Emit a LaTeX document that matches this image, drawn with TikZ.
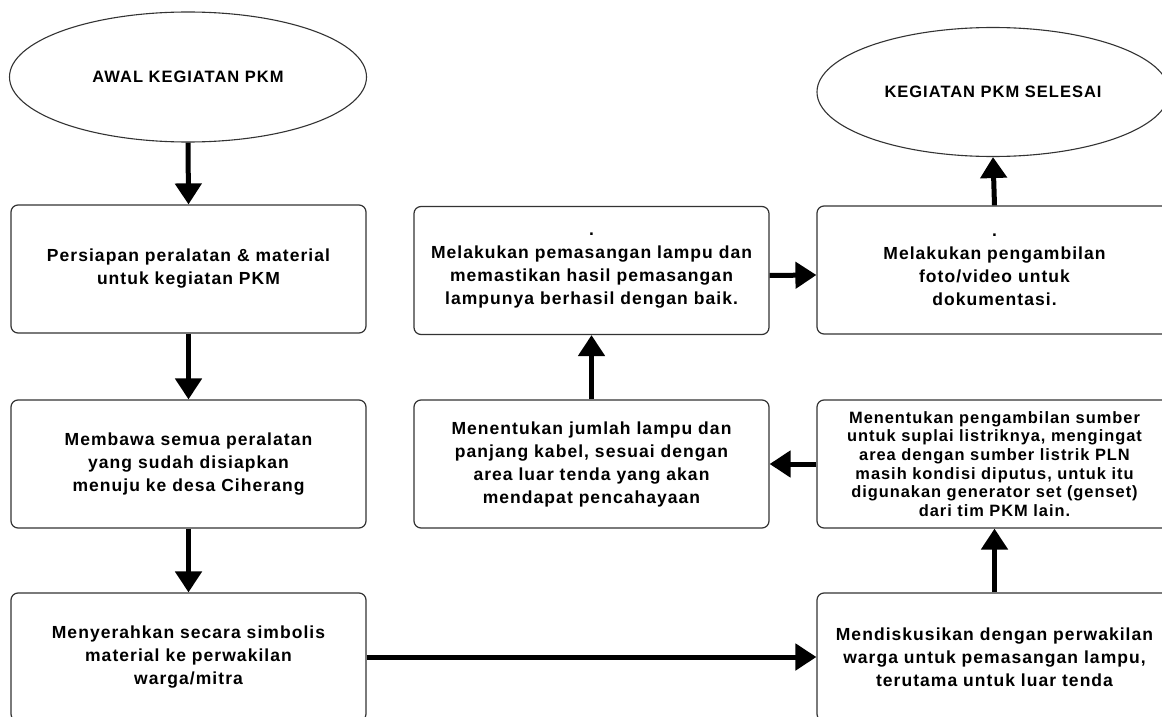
\documentclass[tikz,border=0pt]{standalone}
\usepackage{fontspec}
\newfontfamily\lbl{Liberation Sans Bold}[LetterSpace=6]
\usetikzlibrary{arrows.meta,shapes.geometric}
\tikzset{
  box/.style={draw=black!80, line width=1.2pt, rounded corners=7pt, fill=white,
    minimum width=355pt, minimum height=128pt, align=center, inner sep=0pt,
    font=\lbl\fontsize{17.5}{23}\selectfont},
  smallbox/.style={box, font=\lbl\fontsize{16.4}{18.6}\selectfont},
  term/.style={draw=black!80, line width=1.1pt, ellipse, fill=white, inner sep=0pt,
    align=center, font=\lbl\fontsize{16.5}{20}\selectfont},
  flow/.style={line width=5pt, -{Triangle[width=26pt,length=21pt]}}
}
\begin{document}
\begin{tikzpicture}[x=1pt,y=-1pt]
\useasboundingbox (0,0) rectangle (1162,717);
\clip (0,0) rectangle (1162,717);
\fill[white] (0,0) rectangle (1162,717);
\node[term, minimum width=357pt, minimum height=130pt] (e1) at (188,77) {AWAL KEGIATAN PKM};
\node[term, minimum width=352pt, minimum height=129pt] (e2) at (993,92) {KEGIATAN PKM SELESAI};
\node[box] (b1) at (188.5,269) {Persiapan peralatan \& material\\untuk kegiatan PKM};
\node[box] (b2) at (188.5,464) {Membawa semua peralatan\\yang sudah disiapkan\\menuju ke desa Ciherang};
\node[box] (b3) at (188.5,657) {Menyerahkan secara simbolis\\material ke perwakilan\\warga/mitra};
\node[box] (m1) at (591.5,270.5) {.\\Melakukan pemasangan lampu dan\\memastikan hasil pemasangan\\lampunya berhasil dengan baik.};
\node[box] (m2) at (591.5,464) {Menentukan jumlah lampu dan\\panjang kabel, sesuai dengan\\area luar tenda yang akan\\mendapat pencahayaan};
\node[box] (r1) at (994.5,270) {.\\Melakukan pengambilan\\foto/video untuk\\dokumentasi.};
\node[smallbox] (r2) at (994.5,464) {Menentukan pengambilan sumber\\untuk suplai listriknya, mengingat\\area dengan sumber listrik PLN\\masih kondisi diputus, untuk itu\\digunakan generator set (genset)\\dari tim PKM lain.};
\node[box] (r3) at (994.5,657) {Mendiskusikan dengan perwakilan\\warga untuk pemasangan lampu,\\terutama untuk luar tenda};
\draw[flow] (e1.south) -- (b1.north);
\draw[flow] (b1.south) -- (b2.north);
\draw[flow] (b2.south) -- (b3.north);
\draw[flow] (b3.east) -- (r3.west);
\draw[flow] (r3.north) -- (r2.south);
\draw[flow] (r2.west) -- (m2.east);
\draw[flow] (m2.north) -- (m1.south);
\draw[flow] ([yshift=-5pt]m1.east) -- ([yshift=-5pt]r1.west);
\draw[flow] (r1.north) -- (e2.south);
\end{tikzpicture}
\end{document}
